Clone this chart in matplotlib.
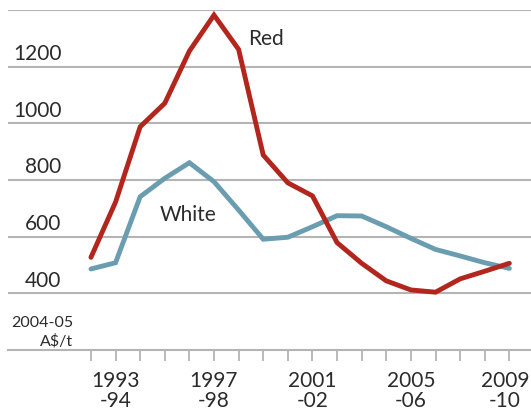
import matplotlib
matplotlib.use("Agg")
import matplotlib.pyplot as plt

years = ["1992-93", "1993-94", "1994-95", "1995-96", "1996-97", "1997-98",
         "1998-99", "1999-00", "2000-01", "2001-02", "2002-03", "2003-04",
         "2004-05", "2005-06", "2006-07", "2007-08", "2008-09", "2009-10"]
red = [527, 722, 988, 1071, 1255, 1382, 1261, 888, 790, 744, 579, 506,
       444, 412, 404, 451, 478, 506]
white = [486, 508, 741, 806, 861, 794, 694, 591, 598, 635, 674, 673,
         635, 594, 555, 532, 508, 488]
y_ticks = [400, 600, 800, 1000, 1200]
x_labels = ["1993\n-94", "1997\n-98", "2001\n-02", "2005\n-06", "2009\n-10"]
x_label_pos = [1, 5, 9, 13, 17]

plt.rcParams['font.family'] = ['Lato', 'DejaVu Sans']
TXT = '#2b2b2b'
GRID = '#b4b4b4'
RED = '#B3261E'
BLUE = '#6A9DB0'

W, H = 531, 415
fig = plt.figure(figsize=(W / 100, H / 100), dpi=100)
ax = fig.add_axes([8 / W, (H - 350) / H, (531 - 8) / W, 340 / H])

x = list(range(len(years)))
ax.plot(x, white, color=BLUE, lw=3.5, solid_capstyle='round', solid_joinstyle='miter', zorder=3)
ax.plot(x, red, color=RED, lw=3.5, solid_capstyle='round', solid_joinstyle='miter', zorder=4)

ax.set_xlim(-3.37, 17.88)
ax.set_ylim(200, 1400)

for v in y_ticks + [1400]:
    ax.axhline(v, color=GRID, lw=1.5, zorder=1)

for s in ['top', 'right', 'left']:
    ax.spines[s].set_visible(False)
ax.spines['bottom'].set_color(GRID)
ax.spines['bottom'].set_linewidth(1.5)

ax.set_yticks([])
ax.set_xticks(x)
ax.set_xticklabels([''] * len(years))
ax.tick_params(axis='x', direction='out', length=8, width=1.3, color=GRID)

for i, (p, l) in enumerate(zip(x_label_pos, x_labels)):
    dx = -3 if i == len(x_labels) - 1 else 0
    ax.annotate(l, xy=(p, 200), xycoords='data', xytext=(dx, -15),
                textcoords='offset points', ha='center', va='top',
                fontsize=15, color=TXT, linespacing=1.0, annotation_clip=False)

for v in y_ticks:
    ax.annotate(str(v), xy=(-1.2, v), xytext=(0, 2), textcoords='offset points',
                ha='right', va='bottom', fontsize=15, color=TXT)

ax.text(-0.72, 262, "2004-05\nA$/t", ha='right', va='center', fontsize=11.5,
        color=TXT, linespacing=1.3, multialignment='right')

ax.text(6.4, 1297, "Red", ha='left', va='center', fontsize=15, color=TXT)
ax.text(2.8, 678, "White", ha='left', va='center', fontsize=15, color=TXT)

fig.savefig("out.png", dpi=100)
